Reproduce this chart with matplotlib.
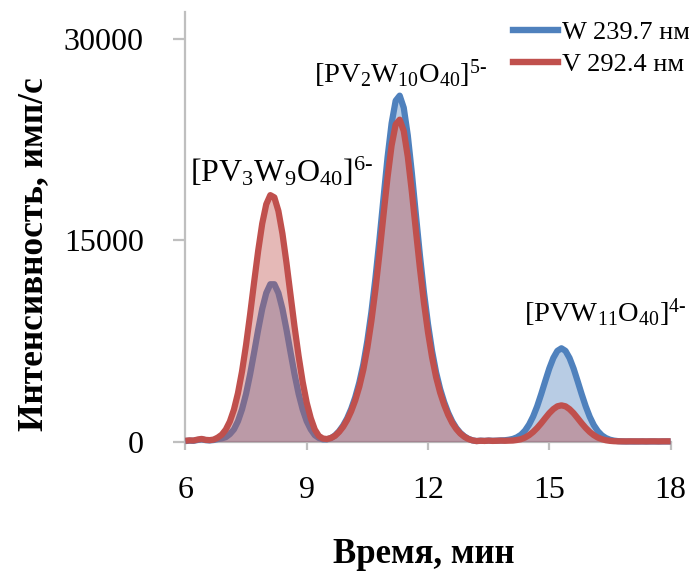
import numpy as np
import matplotlib
matplotlib.use("Agg")
import matplotlib.pyplot as plt
from matplotlib.lines import Line2D

plt.rcParams['font.family'] = ['Liberation Serif', 'DejaVu Serif']
plt.rcParams['mathtext.fontset'] = 'custom'
plt.rcParams['mathtext.rm'] = 'Liberation Serif'
plt.rcParams['mathtext.it'] = 'Liberation Serif:italic'
plt.rcParams['mathtext.bf'] = 'Liberation Serif:bold'

# Retention time grid, min (detector sampled every 0.1 min)
time_min = np.linspace(6.0, 18.0, 121)

# Detector signal at 239.7 nm (W channel), counts/s
signal_w = [
    40, 70, 60, 120, 170, 110, 90, 120, 190, 240,
    330, 560, 910, 1520, 2400, 3560, 5010, 6650, 8340, 9890,
    11070, 11720, 11720, 11070, 9890, 8340, 6650, 5010, 3560, 2400,
    1520, 910, 480, 270, 170, 170, 260, 460, 770, 1190,
    1730, 2430, 3300, 4390, 5750, 7510, 9650, 12180, 15070, 18160,
    21180, 23710, 25390, 25770, 24870, 22810, 20020, 16920, 13880, 11120,
    8750, 6760, 5160, 3920, 2940, 2140, 1500, 1010, 645, 387,
    206, 93, 40, 70, 50, 80, 60, 70, 90, 100,
    140, 200, 320, 510, 820, 1270, 1870, 2630, 3540, 4510,
    5450, 6230, 6760, 6950, 6760, 6230, 5450, 4510, 3540, 2630,
    1850, 1230, 780, 465, 265, 140, 72, 35, 15, 10,
    10, 5, 10, 10, 5, 10, 10, 5, 10, 10,
    10,
]

# Detector signal at 292.4 nm (V channel), counts/s
signal_v = [
    60, 90, 80, 150, 200, 130, 110, 150, 300, 515,
    900, 1500, 2380, 3610, 5220, 7200, 9470, 11890, 14220, 16240,
    17680, 18360, 18190, 17180, 15490, 13310, 10920, 8540, 6370, 4450,
    2900, 1750, 900, 420, 230, 190, 270, 430, 720, 1100,
    1610, 2260, 3070, 4080, 5350, 6980, 8980, 11330, 14020, 16900,
    19700, 22060, 23620, 23980, 23140, 21220, 18620, 15740, 12910, 10340,
    8140, 6290, 4800, 3650, 2740, 1990, 1390, 940, 600, 360,
    190, 90, 40, 60, 50, 70, 50, 60, 70, 60,
    70, 80, 120, 180, 300, 480, 720, 1020, 1370, 1750,
    2120, 2420, 2630, 2700, 2630, 2420, 2120, 1750, 1370, 1020,
    720, 480, 300, 180, 100, 55, 30, 20, 20, 15,
    20, 20, 15, 20, 15, 20, 20, 15, 20, 20,
    20,
]

series_labels = ["W 239.7 нм", "V 292.4 нм"]
peak_labels = [
    r"$\mathrm{[PV}_3\mathrm{W}_9\mathrm{O}_{40}\mathrm{]}^{6\text{-}}$",
    r"$\mathrm{[PV}_2\mathrm{W}_{10}\mathrm{O}_{40}\mathrm{]}^{5\text{-}}$",
    r"$\mathrm{[PVW}_{11}\mathrm{O}_{40}\mathrm{]}^{4\text{-}}$",
]
peak_label_pos = [(8.39, 20090), (11.33, 27390), (16.38, 9580)]
peak_label_size = [23, 20.5, 20.5]

x_ticks = [6, 9, 12, 15, 18]
y_ticks = [0, 15000, 30000]

blue = "#4F81BD"
red = "#C0504D"
axis_grey = "#BFBFBF"

W, H = 689, 573
fig = plt.figure(figsize=(W / 100, H / 100), dpi=100)
ax = fig.add_axes([185.4 / W, 1 - 441.6 / H, (670.6 - 185.4) / W, (441.6 - 12) / H])

lw = 4.5
ax.fill_between(time_min, signal_w, 0, color=blue, alpha=0.4, lw=0, zorder=1)
ax.plot(time_min, signal_w, color=blue, lw=lw, solid_joinstyle='round',
        solid_capstyle='butt', zorder=2, clip_on=False)
ax.fill_between(time_min, signal_v, 0, color=red, alpha=0.4, lw=0, zorder=3)
ax.plot(time_min, signal_v, color=red, lw=lw, solid_joinstyle='round',
        solid_capstyle='butt', zorder=4, clip_on=False)

ax.set_xlim(6, 18)
ax.set_ylim(0, 32000)
ax.set_xticks(x_ticks)
ax.set_yticks(y_ticks)
ax.set_xticklabels([str(v) for v in x_ticks])
ax.set_yticklabels([str(v) for v in y_ticks])

for side in ("top", "right"):
    ax.spines[side].set_visible(False)
for side in ("left", "bottom"):
    ax.spines[side].set_color(axis_grey)
    ax.spines[side].set_linewidth(1.6)
    ax.spines[side].set_zorder(0)

ax.tick_params(axis='x', direction='out', length=6, width=1.6, color=axis_grey,
               labelsize=23, pad=19)
ax.tick_params(axis='y', direction='out', length=8.5, width=1.6, color=axis_grey,
               labelsize=23, pad=21.5)

for (px, py), txt, fs in zip(peak_label_pos, peak_labels, peak_label_size):
    ax.text(px, py, txt, fontsize=fs, ha='center', va='center', zorder=6)

fig.text(424 / W, 1 - 563 / H, "Время, мин", fontsize=25, fontweight='bold',
         ha='center', va='baseline')
fig.text(34 / W, 1 - 254 / H, "Интенсивность, имп/с", fontsize=25.5,
         fontweight='bold', rotation=90, ha='center', va='center')

handles = [Line2D([], [], color=blue, lw=4.6), Line2D([], [], color=red, lw=4.6)]
fig.legend(handles, series_labels, loc='upper left',
           bbox_to_anchor=(513 / W, 1 - 21 / H), frameon=False, fontsize=19,
           handlelength=1.7, handletextpad=0.15, borderpad=0, borderaxespad=0,
           labelspacing=0.31)

fig.savefig("out.png", dpi=100)
